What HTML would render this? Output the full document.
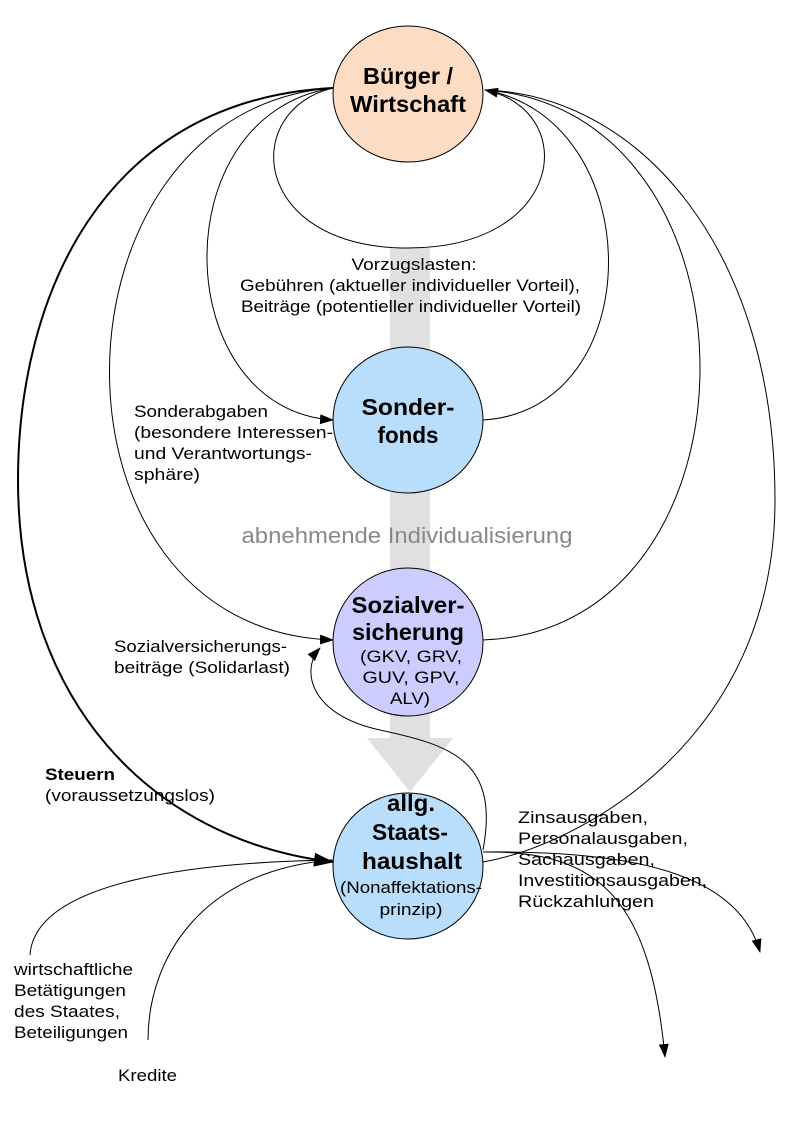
<!DOCTYPE html>
<html><head><meta charset="utf-8"><style>
html,body{margin:0;padding:0;background:#fff;}
svg{display:block;font-family:"Liberation Sans",sans-serif;}
</style></head><body>
<svg width="793" height="1123" viewBox="0 0 793 1123" xmlns="http://www.w3.org/2000/svg">
<defs>
<marker id="a" markerWidth="14" markerHeight="10" refX="13" refY="5" orient="auto" markerUnits="userSpaceOnUse">
<path d="M0,0 L14,5 L0,10 z" fill="#000"/></marker>
<marker id="b" markerWidth="20" markerHeight="14" refX="19" refY="7" orient="auto" markerUnits="userSpaceOnUse">
<path d="M0,0 L20,7 L0,14 z" fill="#000"/></marker>
</defs>
<path d="M390,248 L430,248 L430,738 L453,738 L410,792 L367,738 L390,738 z" fill="#e0e0e0"/>
<g fill="none" stroke="#000" stroke-width="1">
<path d="M333,88 C 240,110 250,248 408,248 C 566,248 580,110 485,90" marker-end="url(#a)"/>
<path d="M333,88 C 160,115 170,410 333,420" marker-end="url(#a)"/>
<path d="M483,420 C 650,410 650,120 485,90"/>
<path d="M333,88 C 40,110 30,630 333,640" marker-end="url(#a)"/>
<path d="M483,640 C 772,630 772,110 485,90"/>
<path d="M483,862 C 580,845 775,740 775,500 C 775,250 640,95 485,90"/>
<path d="M483,850 C 500,760 450,745 380,730 C 310,715 300,670 320,648" marker-end="url(#a)"/>
<path d="M483,852 C 600,850 650,900 665,1057" marker-end="url(#a)"/>
<path d="M483,852 C 650,850 740,880 760,952" marker-end="url(#a)"/>
<path d="M30,955 C 35,880 200,862 333,860"/>
<path d="M148,1040 C 148,960 200,870 333,860"/>
<path d="M333,88 C 100,100 18,300 18,480 C 18,700 150,840 333,862" stroke-width="2" marker-end="url(#b)"/>
</g>
<ellipse cx="408" cy="94" rx="75" ry="68" fill="#fddcc4" stroke="#000"/>
<ellipse cx="408" cy="420" rx="75" ry="73" fill="#b9defc" stroke="#000"/>
<ellipse cx="408" cy="642" rx="75" ry="74" fill="#ccccff" stroke="#000"/>
<ellipse cx="408" cy="866" rx="75" ry="73" fill="#b9defc" stroke="#000"/>
<g font-weight="bold" font-size="23" text-anchor="middle">
<text x="408" y="84" textLength="90" lengthAdjust="spacingAndGlyphs">Bürger /</text>
<text x="408" y="112" textLength="116" lengthAdjust="spacingAndGlyphs">Wirtschaft</text>
<text x="408" y="415" textLength="93" lengthAdjust="spacingAndGlyphs">Sonder-</text>
<text x="408" y="443" textLength="61" lengthAdjust="spacingAndGlyphs">fonds</text>
<text x="408" y="613" textLength="113" lengthAdjust="spacingAndGlyphs">Sozialver-</text>
<text x="408" y="640" textLength="112" lengthAdjust="spacingAndGlyphs">sicherung</text>
<text x="411" y="811" textLength="48" lengthAdjust="spacingAndGlyphs">allg.</text>
<text x="410" y="840" textLength="76" lengthAdjust="spacingAndGlyphs">Staats-</text>
<text x="412" y="869" textLength="100" lengthAdjust="spacingAndGlyphs">haushalt</text>
</g>
<g font-size="17" text-anchor="middle">
<text x="411" y="662" textLength="102" lengthAdjust="spacingAndGlyphs">(GKV, GRV,</text>
<text x="411" y="683" textLength="97" lengthAdjust="spacingAndGlyphs">GUV, GPV,</text>
<text x="410" y="704" textLength="40" lengthAdjust="spacingAndGlyphs">ALV)</text>
<text x="411" y="893" textLength="142" lengthAdjust="spacingAndGlyphs">(Nonaffektations-</text>
<text x="411" y="915" textLength="63" lengthAdjust="spacingAndGlyphs">prinzip)</text>
<text x="414" y="270" textLength="125" lengthAdjust="spacingAndGlyphs">Vorzugslasten:</text>
<text x="410" y="291" textLength="340" lengthAdjust="spacingAndGlyphs">Gebühren (aktueller individueller Vorteil),</text>
<text x="411" y="312" textLength="340" lengthAdjust="spacingAndGlyphs">Beiträge (potentieller individueller Vorteil)</text>
</g>
<text x="407" y="543" font-size="22" fill="#888" text-anchor="middle" textLength="331" lengthAdjust="spacingAndGlyphs">abnehmende Individualisierung</text>
<g font-size="17">
<text x="134" y="417" textLength="134" lengthAdjust="spacingAndGlyphs">Sonderabgaben</text>
<text x="134" y="438" textLength="199" lengthAdjust="spacingAndGlyphs">(besondere Interessen-</text>
<text x="134" y="459" textLength="178" lengthAdjust="spacingAndGlyphs">und Verantwortungs-</text>
<text x="134" y="480" textLength="66" lengthAdjust="spacingAndGlyphs">sphäre)</text>
<text x="114" y="652" textLength="173" lengthAdjust="spacingAndGlyphs">Sozialversicherungs-</text>
<text x="114" y="673" textLength="176" lengthAdjust="spacingAndGlyphs">beiträge (Solidarlast)</text>
<text x="45" y="780" font-weight="bold" textLength="70" lengthAdjust="spacingAndGlyphs">Steuern</text>
<text x="45" y="801" textLength="170" lengthAdjust="spacingAndGlyphs">(voraussetzungslos)</text>
<text x="518" y="823" textLength="130" lengthAdjust="spacingAndGlyphs">Zinsausgaben,</text>
<text x="518" y="844" textLength="170" lengthAdjust="spacingAndGlyphs">Personalausgaben,</text>
<text x="518" y="865" textLength="137" lengthAdjust="spacingAndGlyphs">Sachausgaben,</text>
<text x="518" y="886" textLength="189" lengthAdjust="spacingAndGlyphs">Investitionsausgaben,</text>
<text x="518" y="907" textLength="136" lengthAdjust="spacingAndGlyphs">Rückzahlungen</text>
<text x="14" y="975" textLength="119" lengthAdjust="spacingAndGlyphs">wirtschaftliche</text>
<text x="14" y="996" textLength="112" lengthAdjust="spacingAndGlyphs">Betätigungen</text>
<text x="14" y="1017" textLength="106" lengthAdjust="spacingAndGlyphs">des Staates,</text>
<text x="14" y="1038" textLength="114" lengthAdjust="spacingAndGlyphs">Beteiligungen</text>
<text x="118" y="1081" textLength="59" lengthAdjust="spacingAndGlyphs">Kredite</text>
</g>
</svg>
</body></html>
